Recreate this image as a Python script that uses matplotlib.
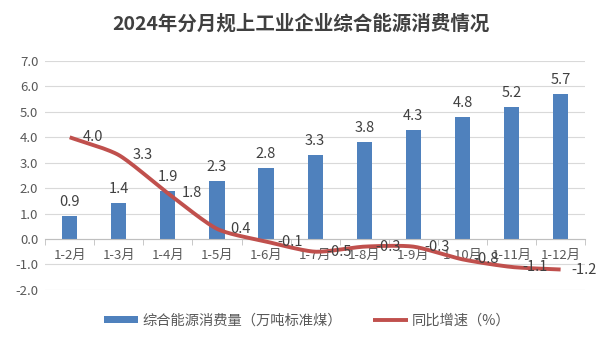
import numpy as np
import matplotlib
matplotlib.use("Agg")
import matplotlib.pyplot as plt
from matplotlib.ticker import FixedLocator

plt.rcParams['font.family'] = ['Noto Sans CJK SC', 'DejaVu Sans']

# data
months = ['1-2月', '1-3月', '1-4月', '1-5月', '1-6月', '1-7月', '1-8月', '1-9月', '1-10月', '1-11月', '1-12月']
energy = [0.9, 1.4, 1.9, 2.3, 2.8, 3.3, 3.8, 4.3, 4.8, 5.2, 5.7]
growth = [4.0, 3.3, 1.8, 0.4, -0.1, -0.5, -0.3, -0.3, -0.8, -1.1, -1.2]

BLUE = '#4F81BD'
RED = '#C0504D'
GRAY = '#595959'


def smooth(xs, ys, n=30, k=0.7):
    # cardinal spline through the points (like Excel smoothed line), k = tangent scale
    xs = np.asarray(xs, float); ys = np.asarray(ys, float)
    px = np.concatenate([[2*xs[0]-xs[1]], xs, [2*xs[-1]-xs[-2]]])
    py = np.concatenate([[2*ys[0]-ys[1]], ys, [2*ys[-1]-ys[-2]]])
    ox, oy = [], []
    t = np.linspace(0, 1, n)
    h00 = 2*t**3 - 3*t**2 + 1; h10 = t**3 - 2*t**2 + t
    h01 = -2*t**3 + 3*t**2; h11 = t**3 - t**2
    for i in range(1, len(px)-2):
        for P, out in ((px, ox), (py, oy)):
            m1 = k*(P[i+1]-P[i-1])/2
            m2 = k*(P[i+2]-P[i])/2
            out.extend(h00*P[i] + h10*m1 + h01*P[i+1] + h11*m2)
    return ox, oy


fig = plt.figure(figsize=(6.02, 3.39), dpi=100)
ax = fig.add_axes([0.075, 0.145, 0.897, 0.675])
x = np.arange(len(months))

bars = ax.bar(x, energy, width=0.31, color=BLUE, zorder=2, label='综合能源消费量（万吨标准煤）')
for xi, v in zip(x, energy):
    ax.annotate(f'{v:.1f}', (xi, v), xytext=(0, 5), textcoords='offset points',
                ha='center', va='bottom', fontsize=10.5, color='#404040')

sx, sy = smooth(x, growth)
ax.plot(sx, sy, color=RED, lw=2.8, zorder=3, solid_capstyle='butt', label='同比增速（%）')
for xi, v in zip(x, growth):
    ax.annotate(f'{v:.1f}', (xi, v), xytext=(17, 0), textcoords='offset points',
                ha='center', va='center', fontsize=10.5, color='#404040', zorder=4)

ax.set_xlim(-0.5, len(months)-0.5)
ax.set_ylim(-2.0, 7.0)
ax.set_yticks(np.arange(-2, 7.1, 1))
ax.set_yticklabels([f'{v:.1f}' for v in np.arange(-2, 7.1, 1)], fontsize=9.5, color=GRAY)
ax.yaxis.grid(True, color='#D9D9D9', lw=0.8, zorder=0)
ax.tick_params(axis='y', length=0, pad=5)

ax.spines['bottom'].set_position(('data', 0))
ax.spines['bottom'].set_color('#BFBFBF')
for s in ['top', 'right', 'left']:
    ax.spines[s].set_visible(False)
ax.set_xticks(x)
ax.set_xticklabels(months, fontsize=9.5, color=GRAY)
ax.tick_params(axis='x', length=0, pad=7)
ax.xaxis.set_minor_locator(FixedLocator(np.arange(-0.5, len(months), 1)))
ax.tick_params(axis='x', which='minor', length=4, color='#BFBFBF', direction='out')

fig.text(0.5, 0.93, '2024年分月规上工业企业综合能源消费情况', ha='center', va='center',
         fontsize=14, fontweight='bold', color='#404040')

fig.legend(handles=[bars, ax.lines[0]], loc='center', bbox_to_anchor=(0.51, 0.055), ncol=2,
           frameon=False, fontsize=10.3, labelcolor=GRAY, handlelength=2.4, columnspacing=2.2,
           handleheight=0.35, handletextpad=0.3)

fig.savefig('out.png', dpi=100)
